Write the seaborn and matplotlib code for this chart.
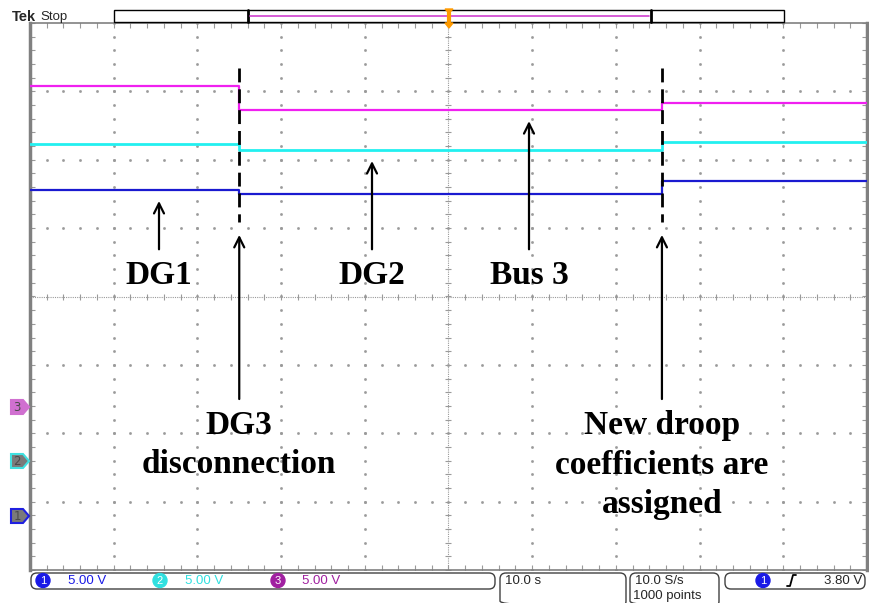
import numpy as np
import pandas as pd
import matplotlib
matplotlib.use("Agg")
import matplotlib.pyplot as plt
from matplotlib.patches import FancyBboxPatch, Rectangle, Polygon, Circle
import seaborn as sns

# ---------------- data ----------------
seg_times = [0.0, 25.0, 75.5, 100.0]          # s : start, DG3 disconnection, new droop, end
ch1_volts = [23.77, 23.53, 24.41]             # DG1 (blue)
ch2_volts = [23.18, 22.74, 23.28]             # DG2 (cyan)
ch3_volts = [23.36, 21.66, 22.18]             # Bus 3 (magenta)
volts_per_div = 5.0
ground_div = {"CH1": -3.2, "CH2": -2.4, "CH3": -1.6}
channel_labels = ["1", "2", "3"]
scale_labels = ["5.00 V", "5.00 V", "5.00 V"]
timebase_label = "10.0 s"
rate_labels = ["10.0 S/s", "1000 points"]
trigger_label = "3.80 V"
event_times = [25.0, 75.5]

W, H = 870, 603
sns.set_style("white")
plt.rcParams["font.family"] = ["DejaVu Sans"]

fig = plt.figure(figsize=(W / 100, H / 100), dpi=100)
fig.patch.set_facecolor("white")

# main graticule axes: x 30..867 px, y 23..570 px
L, R, T, B = 30, 867, 23, 570
ax = fig.add_axes([L / W, (H - B) / H, (R - L) / W, (B - T) / H])
ax.set_xlim(0, 100)
ax.set_ylim(-4, 4)

def make_df(name, volts):
    ys = [v / volts_per_div + ground_div[name] for v in volts] + [volts[-1] / volts_per_div + ground_div[name]]
    return pd.DataFrame({"time": seg_times, "div": ys, "channel": name})

colors = {"CH1": "#1a1ad0", "CH2": "#22f0f0", "CH3": "#f020f0"}
widths = {"CH1": 1.6, "CH2": 2.0, "CH3": 1.6}
for name, volts in [("CH3", ch3_volts), ("CH2", ch2_volts), ("CH1", ch1_volts)]:
    d = make_df(name, volts)
    sns.lineplot(data=d, x="time", y="div", ax=ax, color=colors[name], lw=widths[name],
                 drawstyle="steps-post", estimator=None, sort=False, legend=False, zorder=3)

ax.set_xlabel("")
ax.set_ylabel("")
ax.set_xticks([])
ax.set_yticks([])

grid_c = "#9a9a9a"
# grid dots
for yv in [-3, -2, -1, 1, 2, 3]:
    xs = np.arange(0, 100.01, 2.0)
    ax.plot(xs, np.full_like(xs, yv), ls="none", marker="s", ms=0.9, color=grid_c, zorder=1)
for xv in [10, 20, 30, 40, 60, 70, 80, 90]:
    ys = np.arange(-4, 4.01, 0.2)
    ax.plot(np.full_like(ys, xv), ys, ls="none", marker="s", ms=0.9, color=grid_c, zorder=1)
# center cross
ax.axhline(0, color=grid_c, lw=0.8, ls=(0, (1, 1)), zorder=1)
ax.axvline(50, color=grid_c, lw=0.8, ls=(0, (1, 1)), zorder=1)
xs = np.arange(0, 100.01, 2.0)
ax.plot(xs, np.zeros_like(xs), ls="none", marker="|", ms=5, mew=0.8, color=grid_c, zorder=1)
ys = np.arange(-4, 4.01, 0.2)
ax.plot(np.full_like(ys, 50), ys, ls="none", marker="_", ms=5, mew=0.8, color=grid_c, zorder=1)
# border ticks
ax.plot(xs, np.full_like(xs, 4), ls="none", marker="|", ms=7, mew=0.8, color=grid_c, zorder=1, clip_on=True)
ax.plot(xs, np.full_like(xs, -4), ls="none", marker="|", ms=7, mew=0.8, color=grid_c, zorder=1, clip_on=True)
ax.plot(np.full_like(ys, 0), ys, ls="none", marker="_", ms=7, mew=0.8, color=grid_c, zorder=1, clip_on=True)
ax.plot(np.full_like(ys, 100), ys, ls="none", marker="_", ms=7, mew=0.8, color=grid_c, zorder=1, clip_on=True)
for s in ax.spines.values():
    s.set_visible(True)
    s.set_color("#808080")
    s.set_linewidth(1.2)
ax.spines["left"].set_linewidth(2.5)
ax.spines["right"].set_linewidth(2.5)

# event markers (dashed)
def py2div(py):
    return (296.5 - py) / 68.5

def px2t(px):
    return (px - L) / 8.37

for t in event_times:
    ax.plot([t, t], [py2div(68), py2div(222)], color="black", lw=2, ls=(0, (5, 2.5)), zorder=4)

font_ann = dict(family="Liberation Serif", weight="bold", size=24, color="black")
arrow_kw = dict(arrowstyle="->", color="black", lw=1.6, mutation_scale=18)

# upper labels with arrows
for label, px, tip in [("DG1", 159, 198), ("DG2", 372, 158), ("Bus 3", 529, 118)]:
    ax.annotate("", xy=(px2t(px), py2div(tip)), xytext=(px2t(px), py2div(252)), arrowprops=arrow_kw, zorder=5)
    ax.text(px2t(px), py2div(284), label, ha="center", va="baseline", **font_ann, zorder=5)

# lower labels with arrows
for t in event_times:
    ax.annotate("", xy=(t, py2div(232)), xytext=(t, py2div(402)), arrowprops=arrow_kw, zorder=5)
for txt, bl in [("DG3", 434), ("disconnection", 473)]:
    ax.text(event_times[0], py2div(bl), txt, ha="center", va="baseline", **font_ann, zorder=5)
for txt, bl in [("New droop", 434), ("coefficients are", 474), ("assigned", 513)]:
    ax.text(event_times[1], py2div(bl), txt, ha="center", va="baseline", **font_ann, zorder=5)

# ---------------- overlay: scope chrome ----------------
ov = fig.add_axes([0, 0, 1, 1], zorder=10)
ov.set_xlim(0, W)
ov.set_ylim(H, 0)
ov.axis("off")
ov.patch.set_alpha(0)

ov.text(12, 21, "Tek", fontsize=10.5, weight="bold", family="Liberation Sans", va="baseline")
ov.text(40, 20, "Stop", fontsize=9.5, family="Liberation Sans", va="baseline")

ov.add_patch(Rectangle((114, 10), 670, 12, fill=False, ec="black", lw=1))
ov.plot([248, 248], [10, 22], color="black", lw=2)
ov.plot([651, 651], [10, 22], color="black", lw=2)
ov.plot([250, 649], [16, 16], color="#d040d0", lw=1.2)
ov.plot([449, 449], [9, 25], color="#ff9a00", lw=3, solid_capstyle="butt")
ov.add_patch(Polygon([[445, 23], [453, 23], [449, 28]], closed=True, color="#ff9a00"))
ov.add_patch(Polygon([[445, 9], [453, 9], [449, 13]], closed=True, color="#ff9a00"))

# ground markers
gm = {"3": (407, "#d070d0", "#d070d0"), "2": (461, "#40e0e0", "#7a7a7a"), "1": (516, "#2020e0", "#7a7a7a")}
for lab, (yc, ec, fc) in gm.items():
    pts = [[11, yc - 7], [23, yc - 7], [29, yc], [23, yc + 7], [11, yc + 7]]
    ov.add_patch(Polygon(pts, closed=True, fc=fc, ec=ec, lw=1.5))
    ov.text(17, yc + 0.5, lab, ha="center", va="center", fontsize=8.5, color="#4a4a4a")

# bottom boxes
def rbox(x, y, w, h):
    ov.add_patch(FancyBboxPatch((x, y), w, h, boxstyle="round,pad=0,rounding_size=6",
                                fill=False, ec="#404040", lw=1, clip_on=False))

rbox(31, 573, 464, 16)
rbox(500, 573, 126, 34)
rbox(630, 573, 89, 34)
rbox(725, 573, 140, 16)

ch_cols = ["#1a1ae6", "#30e0e0", "#a020a0"]
for cx, tx, lab, sc, c in zip([43, 160, 278], [68, 185, 302], channel_labels, scale_labels, ch_cols):
    ov.add_patch(Circle((cx, 580.5), 7, color=c))
    ov.text(cx, 581, lab, ha="center", va="center", color="white", fontsize=8, family="Liberation Sans")
    ov.text(tx, 581, sc, ha="left", va="center", color=c, fontsize=9.5, family="Liberation Sans")

ov.text(505, 581, timebase_label, ha="left", va="center", fontsize=9.5, family="Liberation Sans")
ov.text(635, 581, rate_labels[0], ha="left", va="center", fontsize=9.5, family="Liberation Sans")
ov.text(633, 596, rate_labels[1], ha="left", va="center", fontsize=9.5, family="Liberation Sans")
ov.add_patch(Circle((763, 580.5), 7, color="#1a1ae6"))
ov.text(763, 581, channel_labels[0], ha="center", va="center", color="white", fontsize=8, family="Liberation Sans")
ov.plot([787, 790, 793, 796], [586, 586, 575, 575], color="black", lw=1.3)
ov.text(862, 581, trigger_label, ha="right", va="center", fontsize=9.5, family="Liberation Sans")

fig.savefig("out.png", dpi=100)
